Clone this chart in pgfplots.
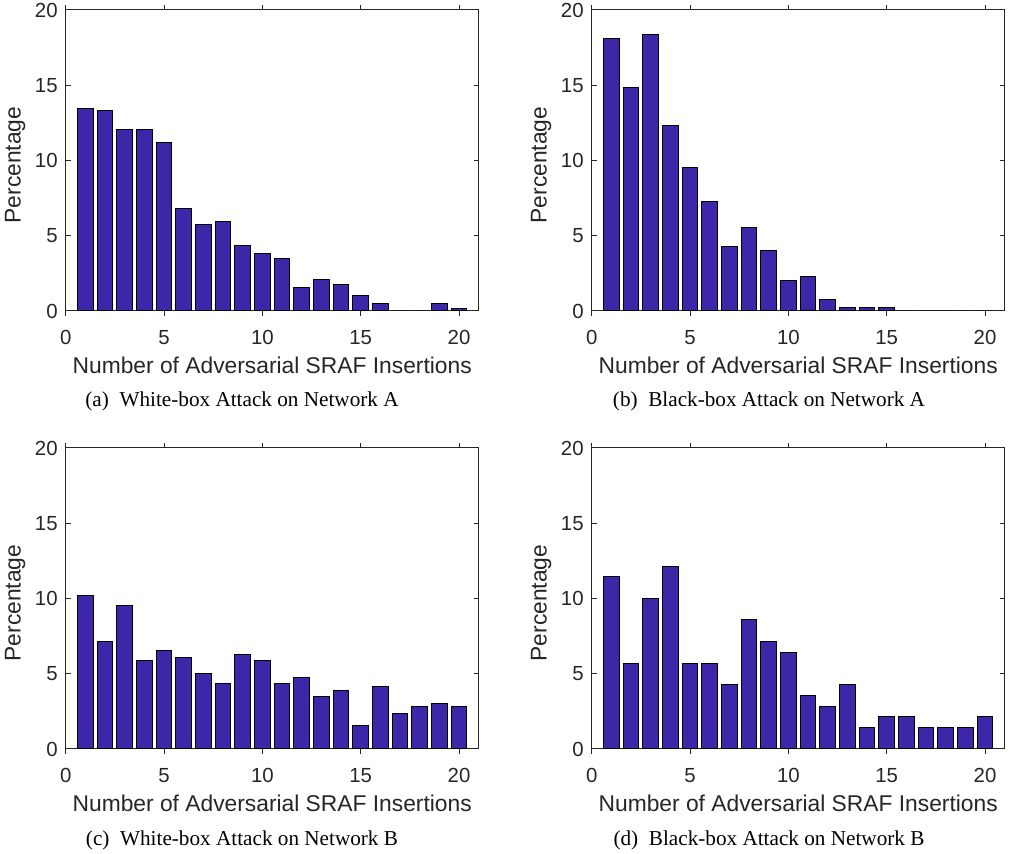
\documentclass[border=0pt]{standalone}
\usepackage{pgfplots}
\pgfplotsset{compat=1.18}
\usepackage{fontspec}
\setmainfont{Liberation Serif}
\newfontfamily\arial{Liberation Sans}
\definecolor{barcol}{RGB}{62,38,168}
\definecolor{axcol}{RGB}{38,38,38}
\pgfplotsset{
 panel/.style={
  scale only axis, width=206.5pt, height=150.5pt,
  anchor=south west,
  xmin=0, xmax=21, ymin=0, ymax=20,
  xtick={0,5,...,20}, ytick={0,5,...,20},
  tick align=inside, major tick length=2.5pt,
  axis line style={axcol, line width=0.5pt},
  every tick/.style={axcol, line width=0.5pt},
  /pgf/number format/assume math mode=true,
  ticklabel style={font=\arial\fontsize{10.2}{12}\selectfont, text=axcol},
  xticklabel style={anchor=base, yshift=-14.5pt},
  yticklabel style={anchor=east, inner sep=0pt, xshift=-3.85pt},
  xlabel={Number of Adversarial SRAF Insertions},
  ylabel={Percentage},
  xlabel style={font=\arial\fontsize{11.4}{13}\selectfont, text=axcol, at={(axis description cs:0.5,0)}, anchor=base, yshift=-31.5pt},
  ylabel style={font=\arial\fontsize{11.4}{13}\selectfont, text=axcol, at={(axis description cs:0,0.485)}, anchor=center, yshift=25.3pt},
  ybar, bar width=0.8,
 },
 bars/.style={draw=black, fill=barcol, line width=0.5pt},
}
\begin{document}
\begin{tikzpicture}
\useasboundingbox (0,0) rectangle (505.5pt,427pt);
% (a)
\begin{axis}[panel, at={(32.85pt,271.5pt)}]
\addplot[bars] coordinates {(1,13.46) (2,13.33) (3,12.06) (4,12.06) (5,11.2) (6,6.81) (7,5.76) (8,5.94) (9,4.37) (10,3.84) (11,3.50) (12,1.57) (13,2.11) (14,1.75) (15,1.04) (16,0.51) (17,0) (18,0) (19,0.51) (20,0.16)};
\end{axis}
% (b)
\begin{axis}[panel, at={(295.85pt,271.5pt)}]
\addplot[bars] coordinates {(1,18.09) (2,14.86) (3,18.38) (4,12.33) (5,9.56) (6,7.27) (7,4.28) (8,5.54) (9,4.01) (10,2.02) (11,2.26) (12,0.75) (13,0.24) (14,0.24) (15,0.24) (16,0) (17,0) (18,0) (19,0) (20,0)};
\end{axis}
% (c)
\begin{axis}[panel, at={(32.85pt,52.5pt)}]
\addplot[bars] coordinates {(1,10.2) (2,7.16) (3,9.56) (4,5.88) (5,6.52) (6,6.08) (7,4.99) (8,4.35) (9,6.27) (10,5.88) (11,4.35) (12,4.77) (13,3.48) (14,3.90) (15,1.53) (16,4.12) (17,2.39) (18,2.82) (19,3.04) (20,2.82)};
\end{axis}
% (d)
\begin{axis}[panel, at={(295.85pt,52.5pt)}]
\addplot[bars] coordinates {(1,11.44) (2,5.70) (3,10.0) (4,12.15) (5,5.70) (6,5.70) (7,4.28) (8,8.58) (9,7.14) (10,6.43) (11,3.57) (12,2.84) (13,4.28) (14,1.42) (15,2.13) (16,2.13) (17,1.42) (18,1.42) (19,1.42) (20,2.13)};
\end{axis}
\node[anchor=base, font=\fontsize{10.6}{12}\selectfont] at (121pt,223.5pt) {(a)\hspace{0.5em}White-box Attack on Network A};
\node[anchor=base, font=\fontsize{10.6}{12}\selectfont] at (384.5pt,223.5pt) {(b)\hspace{0.5em}Black-box Attack on Network A};
\node[anchor=base, font=\fontsize{10.6}{12}\selectfont] at (121pt,4pt) {(c)\hspace{0.5em}White-box Attack on Network B};
\node[anchor=base, font=\fontsize{10.6}{12}\selectfont] at (384.5pt,4pt) {(d)\hspace{0.5em}Black-box Attack on Network B};
\end{tikzpicture}
\end{document}
